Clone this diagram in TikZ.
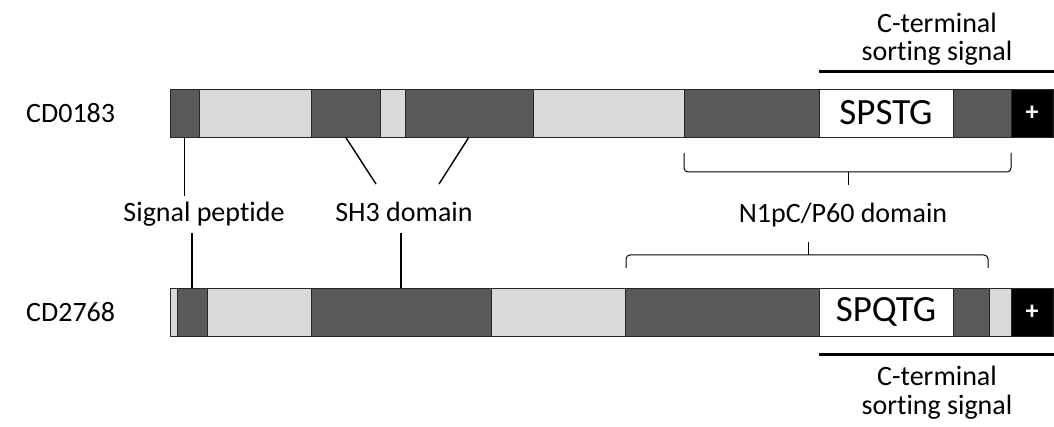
\documentclass[tikz,border=0pt]{standalone}
\usepackage{fontspec}
\setmainfont[Ligatures=NoCommon]{Carlito}
\definecolor{dk}{HTML}{595959}
\definecolor{lt}{HTML}{D9D9D9}
\begin{document}
\begin{tikzpicture}[x=1pt,y=-1pt,
  seg/.style={draw=black!85, line width=0.8pt, inner sep=0pt, outer sep=0pt,
    anchor=north west, minimum height=48pt},
  lbl/.style={font=\fontsize{28}{34}\selectfont, inner sep=0pt},
  big/.style={font=\fontsize{37}{44}\selectfont},
  plus/.style={text=white, font=\fontsize{26}{30}\selectfont\bfseries},
  conn/.style={line width=1.4pt},
  rule/.style={line width=3pt},
  brc/.style={line width=1pt, rounded corners=4pt}]
\useasboundingbox (0,0) rectangle (1054,427);

% top bar CD0183
\node[seg, fill=dk, minimum width=29pt]  (t1)  at (170,89) {};
\node[seg, fill=lt, minimum width=112pt] (t2)  at (199,89) {};
\node[seg, fill=dk, minimum width=69pt]  (t3)  at (311,89) {};
\node[seg, fill=lt, minimum width=25pt]  (t4)  at (380,89) {};
\node[seg, fill=dk, minimum width=128pt] (t5)  at (405,89) {};
\node[seg, fill=lt, minimum width=151pt] (t6)  at (533,89) {};
\node[seg, fill=dk, minimum width=135pt] (t7)  at (684,89) {};
\node[seg, fill=white, minimum width=134pt, big] (t8) at (819,89) {SPSTG};
\node[seg, fill=dk, minimum width=58pt]  (t9)  at (953,89) {};
\node[seg, fill=black, minimum width=42pt, plus] (t10) at (1011,89) {+};

% bottom bar CD2768
\node[seg, fill=lt, minimum width=7pt]   (b1)  at (170,288) {};
\node[seg, fill=dk, minimum width=30pt]  (b2)  at (177,288) {};
\node[seg, fill=lt, minimum width=104pt] (b3)  at (207,288) {};
\node[seg, fill=dk, minimum width=180pt] (b4)  at (311,288) {};
\node[seg, fill=lt, minimum width=134pt] (b5)  at (491,288) {};
\node[seg, fill=dk, minimum width=194pt] (b6)  at (625,288) {};
\node[seg, fill=white, minimum width=134pt, big] (b7) at (819,288) {SPQTG};
\node[seg, fill=dk, minimum width=36pt]  (b8)  at (953,288) {};
\node[seg, fill=lt, minimum width=22pt]  (b9)  at (989,288) {};
\node[seg, fill=black, minimum width=42pt, plus] (b10) at (1011,288) {+};

% names
\node[lbl, anchor=west] (cd1) at (26,113) {CD0183};
\node[lbl, anchor=west] (cd2) at (26,312) {CD2768};

% labels
\node[lbl, anchor=base] (sp)  at (204,222) {Signal peptide};
\node[lbl, anchor=base] (sh3) at (404,222) {SH3 domain};
\node[lbl, anchor=base] (np)  at (843,223) {N1pC/P60 domain};

% signal peptide connectors
\coordinate (spa) at (184.5,196);
\coordinate (spb) at (192,233);
\draw[conn] (t1.south) -- (spa);
\draw[conn] (b2.north) -- (spb);

% SH3 connectors
\coordinate (sha) at (376,184);
\coordinate (shb) at (439,184);
\coordinate (shc) at (401,233);
\draw[conn] (t3.south) -- (sha);
\draw[conn] (t5.south) -- (shb);
\draw[conn] (b4.north) -- (shc);

% N1pC/P60 braces
\coordinate (bra) at (684,153);
\coordinate (brb) at (1011,153);
\coordinate (brtip) at (848,185);
\coordinate (brc) at (626,268);
\coordinate (brd) at (988,268);
\coordinate (brtip2) at (808,242);
\draw[brc] (bra) -- (bra |- 0,172) -- (brtip |- 0,172) -- (brb |- 0,172) -- (brb);
\draw[brc] (brtip |- 0,172) -- (brtip);
\draw[brc] (brc) -- (brc |- 0,255) -- (brtip2 |- 0,255) -- (brd |- 0,255) -- (brd);
\draw[brc] (brtip2 |- 0,255) -- (brtip2);

% C-terminal sorting signal
\coordinate (r1a) at (819,72);
\coordinate (r1b) at (1054,72);
\coordinate (r2a) at (819,354);
\coordinate (r2b) at (1054,354);
\draw[rule] (r1a) -- (r1b);
\draw[rule] (r2a) -- (r2b);
\node[lbl, anchor=base] (ct1) at (937,33) {C-terminal};
\node[lbl, anchor=base] (ss1) at (937,61) {sorting signal};
\node[lbl, anchor=base] (ct2) at (937,385) {C-terminal};
\node[lbl, anchor=base] (ss2) at (937,414) {sorting signal};
\end{tikzpicture}
\end{document}
